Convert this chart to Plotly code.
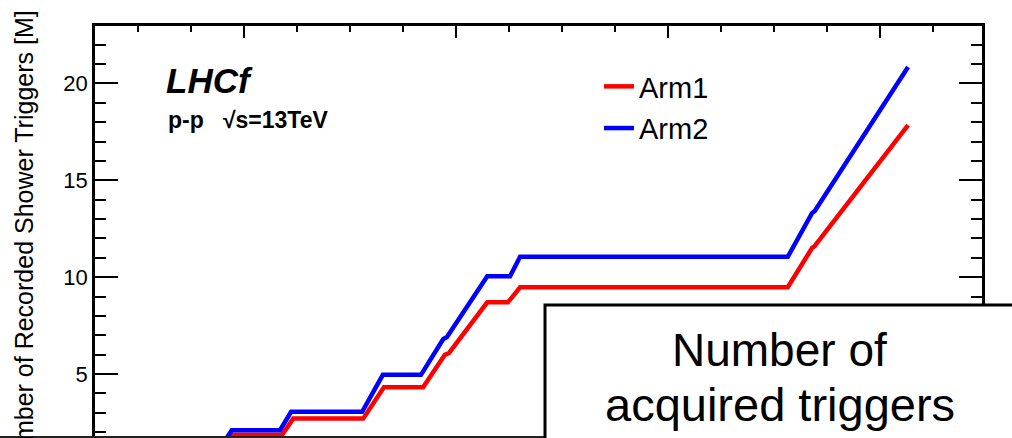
import plotly.graph_objects as go

# Cumulative number of recorded shower triggers (millions) versus run time
arm1_time = [3.26, 3.79, 4.72, 4.93, 6.25, 6.64, 7.38, 7.79, 7.87, 8.59, 8.98, 9.21, 14.26, 14.72, 14.77, 16.53]
arm1_trig = [0.0, 1.87, 1.87, 2.70, 2.70, 4.32, 4.32, 5.99, 6.09, 8.70, 8.70, 9.48, 9.48, 11.51, 11.61, 17.85]

arm2_time = [3.26, 3.77, 4.68, 4.89, 6.23, 6.62, 7.34, 7.76, 7.83, 8.59, 9.02, 9.21, 14.26, 14.72, 14.77, 16.53]
arm2_trig = [0.0, 2.10, 2.10, 3.05, 3.05, 4.96, 4.96, 6.81, 6.91, 10.05, 10.05, 11.05, 11.05, 13.31, 13.42, 20.84]

W, H = 1012, 438
ML, MR, MT, MB = 95, 30, 26, 0
PW, PH = W - ML - MR, H - MT - MB
FONT = "Liberation Sans, Arial, Helvetica, sans-serif"


def px_x(p):
    return (p - ML) / PW


def px_y(p):
    return (H - MB - p) / PH


fig = go.Figure()
fig.add_trace(go.Scatter(x=arm1_time, y=arm1_trig, mode="lines", name="Arm1",
                         line=dict(color="#ff0000", width=4.5), legendgroup="a1"))
fig.add_trace(go.Scatter(x=arm2_time, y=arm2_trig, mode="lines", name="Arm2",
                         line=dict(color="#0000ff", width=4.5), legendgroup="a2"))

fig.update_layout(
    width=W, height=H,
    margin=dict(l=ML, r=MR, t=MT, b=MB, pad=0),
    paper_bgcolor="white", plot_bgcolor="white",
    font=dict(family=FONT, color="black"),
    showlegend=True,
    legend=dict(x=px_x(599), y=px_y(61), xanchor="left", yanchor="top",
                bgcolor="rgba(0,0,0,0)", font=dict(size=29, family=FONT),
                tracegroupgap=1, itemwidth=30),
    xaxis=dict(range=[1.189, 17.925], side="top", showgrid=False, zeroline=False,
               showline=True, linecolor="black", linewidth=2.5,
               ticks="inside", ticklen=12, tickwidth=2, tickcolor="black",
               tick0=0, dtick=4, showticklabels=False,
               minor=dict(ticks="inside", ticklen=6, tickwidth=2, tickcolor="black",
                          dtick=1, tick0=0, showgrid=False)),
    yaxis=dict(range=[1.70, 22.96], showgrid=False, zeroline=False,
               showline=True, linecolor="black", linewidth=2.5, mirror="ticks",
               ticks="inside", ticklen=23, tickwidth=2, tickcolor="black",
               tick0=0, dtick=5, tickfont=dict(size=22, family=FONT),
               minor=dict(ticks="inside", ticklen=11, tickwidth=2, tickcolor="black",
                          dtick=1, tick0=0, showgrid=False)),
)

# Axis title
fig.add_annotation(text="Number of Recorded Shower Triggers [M]", textangle=-90,
                   xref="paper", yref="paper", x=px_x(24), y=px_y(242),
                   xanchor="center", yanchor="middle", showarrow=False,
                   font=dict(size=25, family=FONT))

# Experiment labels
fig.add_annotation(text="<b><i>LHCf</i></b>", xref="paper", yref="paper",
                   x=px_x(164), y=px_y(80.5), xanchor="left", yanchor="middle",
                   showarrow=False, font=dict(size=35, family=FONT))
fig.add_annotation(text="<b>p-p   √s=13TeV</b>", xref="paper", yref="paper",
                   x=px_x(166), y=px_y(120), xanchor="left", yanchor="middle",
                   showarrow=False, font=dict(size=23, family=FONT))

# Frame line along the lower edge
fig.add_shape(type="line", xref="paper", yref="paper",
              x0=px_x(0), x1=px_x(W), y0=px_y(437), y1=px_y(437),
              line=dict(color="#222222", width=2), layer="above")

# Caption box
fig.add_shape(type="rect", xref="paper", yref="paper",
              x0=px_x(545), x1=px_x(W + 20), y0=px_y(H + 20), y1=px_y(305),
              line=dict(color="black", width=3), fillcolor="white", layer="above")
fig.add_annotation(text="Number of", xref="paper", yref="paper",
                   x=px_x(779), y=px_y(350), xanchor="center", yanchor="middle",
                   showarrow=False, font=dict(size=46, family=FONT))
fig.add_annotation(text="acquired triggers", xref="paper", yref="paper",
                   x=px_x(780), y=px_y(404), xanchor="center", yanchor="middle",
                   showarrow=False, font=dict(size=47, family=FONT))

fig.write_html("out.html")
